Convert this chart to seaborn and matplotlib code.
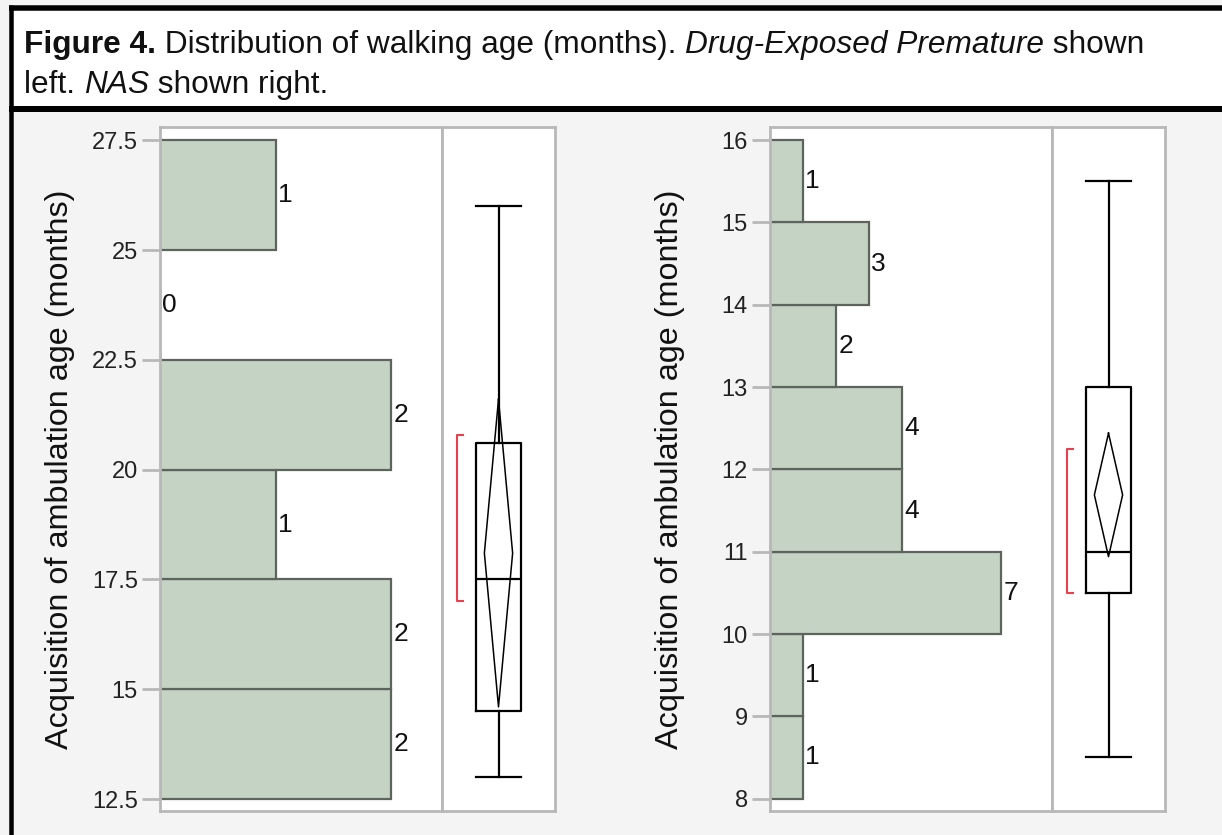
import matplotlib
matplotlib.use("Agg")
import matplotlib.pyplot as plt
import numpy as np
import seaborn as sns
from matplotlib.lines import Line2D
from matplotlib.patches import Rectangle

# Histogram bins and counts
dep_edges = [12.5, 15, 17.5, 20, 22.5, 25, 27.5]
dep_counts = [2, 2, 1, 2, 0, 1]
dep_ticks = [12.5, 15, 17.5, 20, 22.5, 25, 27.5]

nas_edges = [8, 9, 10, 11, 12, 13, 14, 15, 16]
nas_counts = [1, 1, 7, 4, 4, 2, 3, 1]
nas_ticks = [8, 9, 10, 11, 12, 13, 14, 15, 16]

# Outlier box plot summaries: whisker lo, q1, median, q3, whisker hi
dep_box = [13, 14.5, 17.5, 20.6, 26]
nas_box = [8.5, 10.5, 11, 13, 15.5]
# Mean diamond: ci lo, mean, ci hi
dep_diamond = [14.6, 18.1, 21.6]
nas_diamond = [10.94, 11.69, 12.44]
# Shortest half bracket
dep_short = [17.0, 20.8]
nas_short = [10.5, 12.25]

caption_1 = [("Figure 4.", "bold", "normal"),
             (" Distribution of walking age (months). ", "normal", "normal"),
             ("Drug-Exposed Premature", "normal", "italic"),
             (" shown", "normal", "normal")]
caption_2 = [("left. ", "normal", "normal"),
             ("NAS", "normal", "italic"),
             (" shown right.", "normal", "normal")]
ylabel = "Acquisition of ambulation age (months)"

W, H = 1222, 835
plt.rcParams["font.family"] = ["Liberation Sans", "DejaVu Sans"]

BAR = "#c5d3c5"
BAR_EDGE = "#5c645c"
FRAME = "#b8b8b8"
RED = "#e8404f"

fig = plt.figure(figsize=(W / 100, H / 100), dpi=100)
fig.patch.set_facecolor("#f4f4f4")


def fx(x):
    return x / W


def fy(y):
    return 1 - y / H


# caption box and borders
fig.patches.append(Rectangle((fx(9), fy(108)), 1, (108 - 8) / H,
                             transform=fig.transFigure, facecolor="white",
                             edgecolor="none", zorder=0))
for (x0, y0, x1, y1, lw) in [(9, 7.5, W, 7.5, 5.5), (9, 109, W, 109, 6),
                             (10.5, 5, 10.5, H, 4.5)]:
    fig.lines.append(Line2D([fx(x0), fx(x1)], [fy(y0), fy(y1)],
                            transform=fig.transFigure, color="black",
                            lw=lw * 0.72, solid_capstyle="butt"))


def write_runs(runs, x, y, size):
    renderer = fig.canvas.get_renderer()
    cur = x
    for txt, weight, style in runs:
        t = fig.text(fx(cur), fy(y), txt, fontsize=size, fontweight=weight,
                     fontstyle=style, va="baseline", ha="left", color="#111111")
        bb = t.get_window_extent(renderer=renderer)
        cur += bb.width


write_runs(caption_1, 24, 53, 22.8)
write_runs(caption_2, 24, 93, 22.8)


def add_ax(x0, x1, y0, y1):
    return fig.add_axes([fx(x0), fy(y1), (x1 - x0) / W, (y1 - y0) / H])


def fmt(v):
    return f"{v:g}"


def draw_panel(x0, xdiv, x1, edges, counts, ticks, ylim, xmax, box, diamond,
               short, label_x):
    ax = add_ax(x0, xdiv, 127, 811)
    centers = [(a + b) / 2 for a, b in zip(edges[:-1], edges[1:])]
    sns.histplot(y=centers, weights=counts, bins=edges, ax=ax, color=BAR,
                 edgecolor=BAR_EDGE, linewidth=1.6, alpha=1)
    ax.set_facecolor("white")
    ax.set_xlim(0, xmax)
    ax.set_ylim(*ylim)
    ax.set_yticks(ticks)
    ax.set_yticklabels([fmt(t) for t in ticks])
    ax.set_xticks([])
    ax.set_xlabel("")
    ax.tick_params(axis="y", length=13, width=2, color=FRAME, labelsize=17,
                   labelcolor="#222222", pad=3)
    for s in ax.spines.values():
        s.set_color(FRAME)
        s.set_linewidth(2)
    ax.set_ylabel(ylabel, fontsize=23.3, color="#111111", va="center")
    ax.yaxis.set_label_coords((label_x - x0) / (xdiv - x0), 0.5)
    for c, n in zip(centers, counts):
        ax.text(n + xmax * 0.008, c, str(n), fontsize=19, va="center",
                ha="left", color="#111111")

    bx = add_ax(xdiv, x1, 127, 811)
    bx.set_facecolor("white")
    wlo, q1, med, q3, whi = box
    bx.bxp([{"whislo": wlo, "q1": q1, "med": med, "q3": q3, "whishi": whi,
             "fliers": []}], positions=[0], widths=0.8, capwidths=0.8,
           showfliers=False, manage_ticks=False,
           boxprops=dict(color="black", lw=1.6),
           whiskerprops=dict(color="black", lw=1.6),
           capprops=dict(color="black", lw=1.6),
           medianprops=dict(color="black", lw=1.6))
    lo, mean, hi = diamond
    bx.plot([0, 0.25, 0, -0.25, 0], [hi, mean, lo, mean, hi], color="black",
            lw=1.1)
    bx.plot([-0.62, -0.73, -0.73, -0.62], [short[1], short[1], short[0],
                                           short[0]], color=RED, lw=1.5)
    bx.set_xlim(-1, 1)
    bx.set_ylim(*ylim)
    bx.set_xticks([])
    bx.set_yticks([])
    for s in bx.spines.values():
        s.set_color(FRAME)
        s.set_linewidth(2)


draw_panel(160, 442, 555, dep_edges, dep_counts, dep_ticks, (12.23, 27.8),
           2.44, dep_box, dep_diamond, dep_short, 60)
draw_panel(770, 1052, 1165, nas_edges, nas_counts, nas_ticks, (7.85, 16.16),
           8.53, nas_box, nas_diamond, nas_short, 670)

fig.savefig("out.png", dpi=100, facecolor=fig.get_facecolor())
